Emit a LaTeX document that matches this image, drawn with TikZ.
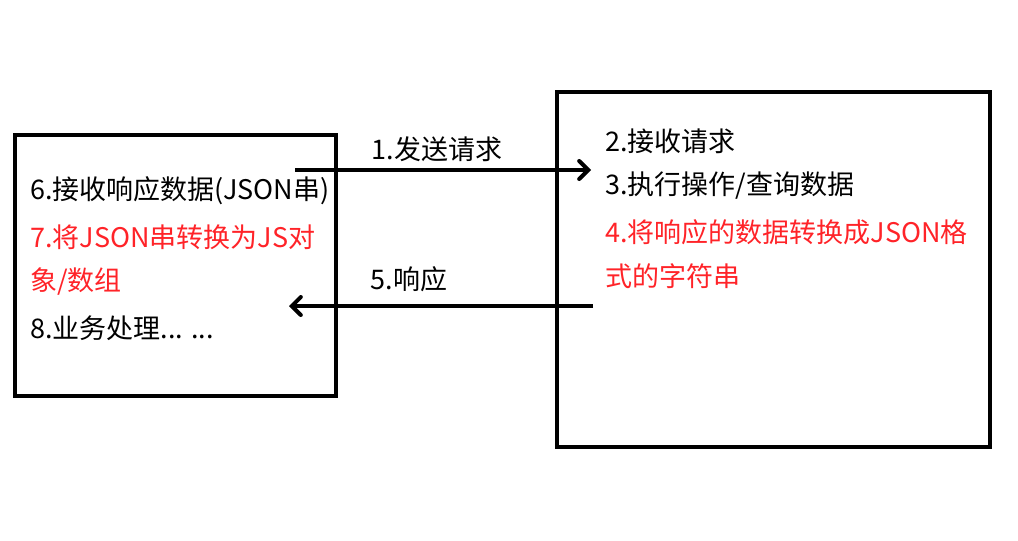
\documentclass[tikz,border=0pt]{standalone}
\usepackage{fontspec}
\setmainfont{Noto Sans CJK SC}
\usetikzlibrary{arrows.meta}
\definecolor{redtxt}{RGB}{255,35,40}
\begin{document}
\begin{tikzpicture}[x=1pt,y=-1pt,
  box/.style={draw=black,line width=4pt},
  txt/.style={anchor=west,inner sep=0pt,font=\fontsize{27}{27}\selectfont},
  redline/.style={txt,text=redtxt},
  conn/.style={line width=4pt,-{Straight Barb[length=9pt,width=18pt,line width=4pt,line cap=round]}},
  lbl/.style={inner sep=0pt,font=\fontsize{27}{27}\selectfont}]
\useasboundingbox (0,0) rectangle (1018,541);
\node[box,minimum width=321pt,minimum height=261pt,inner sep=0pt] (client) at (175.5,265.5) {};
\node[box,minimum width=433pt,minimum height=355pt,inner sep=0pt] (server) at (773.5,269.5) {};
\node[txt] (t6) at (30,191) {6.接收响应数据(JSON串)};
\node[redline] (t7a) at (30,237) {7.将JSON串转换为JS对};
\node[redline] (t7b) at (30,282) {象/数组};
\node[txt] (t8) at (30,328) {8.业务处理... ...};
\node[txt] (t2) at (605,141) {2.接收请求};
\node[txt] (t3) at (605,186) {3.执行操作/查询数据};
\node[redline] (t4a) at (605,232) {4.将响应的数据转换成JSON格};
\node[redline] (t4b) at (605,276) {式的字符串};
\coordinate (a1s) at (295,170);
\coordinate (a1e) at (591,170);
\coordinate (a5s) at (593,306);
\coordinate (a5e) at (289,306);
\draw[conn] (a1s) -- (a1e);
\draw[conn] (a5s) -- (a5e);
\node[lbl] (l1) at (437,149) {1.发送请求};
\node[lbl] (l5) at (409,279) {5.响应};
\end{tikzpicture}
\end{document}
